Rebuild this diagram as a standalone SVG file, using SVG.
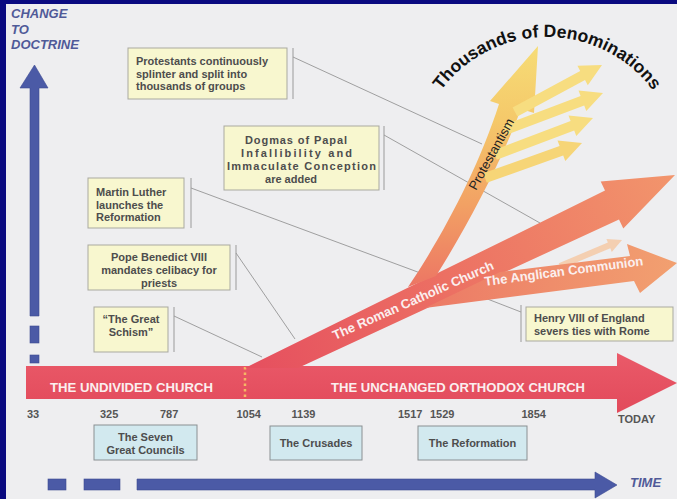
<svg xmlns="http://www.w3.org/2000/svg" width="677" height="499" viewBox="0 0 677 499">
<defs>
<style>
.bx{fill:#f8f7cf;stroke:#a9a9a0;stroke-width:1}
.br{stroke:#9a9a9a;stroke-width:1}
.bb{fill:#d2e9ef;stroke:#8a8f92;stroke-width:1}
.t{font-family:"Liberation Sans",Arial,sans-serif;font-weight:bold;font-size:11px;fill:#4d4d4d}
.c{text-anchor:middle}
.yr{font-family:"Liberation Sans",Arial,sans-serif;font-weight:bold;font-size:11px;fill:#555}
.w{font-family:"Liberation Sans",Arial,sans-serif;font-weight:bold;font-size:13px;fill:#fbefef}
.ax{font-family:"Liberation Sans",Arial,sans-serif;font-weight:bold;font-style:italic;font-size:13px;fill:#505a98}
.cn{stroke:#8a8a8a;stroke-width:0.8;fill:none}
.blue{fill:#4b5aa6;stroke:#3c4a92;stroke-width:0.6}
.br1{fill:#f7dd80}
</style>
<linearGradient id="gMain" x1="0" y1="353" x2="0" y2="413" gradientUnits="userSpaceOnUse">
<stop offset="0" stop-color="#ea5a69"/><stop offset="1" stop-color="#e24a5b"/>
</linearGradient>
<linearGradient id="gRcc" x1="260" y1="366" x2="675" y2="175" gradientUnits="userSpaceOnUse">
<stop offset="0" stop-color="#e6515f"/><stop offset="0.45" stop-color="#ec7063"/><stop offset="1" stop-color="#f2956c"/>
</linearGradient>
<linearGradient id="gAng" x1="425" y1="0" x2="677" y2="0" gradientUnits="userSpaceOnUse">
<stop offset="0" stop-color="#ec7a66"/><stop offset="1" stop-color="#f2a070"/>
</linearGradient>
<linearGradient id="gPro" x1="0" y1="290" x2="0" y2="46" gradientUnits="userSpaceOnUse">
<stop offset="0" stop-color="#ec7464"/><stop offset="0.35" stop-color="#f2a164"/><stop offset="0.7" stop-color="#f5c96a"/><stop offset="1" stop-color="#f6dc76"/>
</linearGradient>
<path id="arc" d="M440.6,91.2 A131.5,131.5 0 0 1 653.4,91.2"/>
</defs>

<rect x="0" y="0" width="677" height="499" fill="#0a0a80"/>
<rect x="6" y="4" width="671" height="495" fill="#eeeef0"/>

<g id="axis-doctrine">
<text class="ax" x="11" y="18">CHANGE</text>
<text class="ax" x="11" y="33.5">TO</text>
<text class="ax" x="11" y="49">DOCTRINE</text>
<polygon class="blue" points="30,88 30,316 39,316 39,88 48,88 34.5,65 20,88"/>
<rect class="blue" x="30" y="326" width="9" height="17"/>
<rect class="blue" x="30" y="355" width="9" height="8"/>
</g>

<g id="axis-time">
<rect class="blue" x="48" y="479" width="18" height="11"/>
<rect class="blue" x="84" y="479" width="36" height="11"/>
<polygon class="blue" points="137,479 595,479 595,472 617,485 595,498 595,490 137,490"/>
<text class="ax" x="630" y="487" font-size="12.5">TIME</text>
</g>

<g id="connectors">
<line class="cn" x1="293" y1="57" x2="482" y2="144"/>
<line class="cn" x1="384" y1="135" x2="540" y2="223"/>
<line class="cn" x1="191" y1="188" x2="415" y2="271"/>
<line class="cn" x1="521" y1="312" x2="415" y2="271"/>
<line class="cn" x1="236" y1="253" x2="295" y2="339"/>
<line class="cn" x1="174" y1="316" x2="262" y2="357"/>
</g>

<g id="orthodox-church">
<polygon points="26,366 617,366 617,353 677,383 617,413 617,399 26,399" fill="url(#gMain)"/>
<text class="w" x="50" y="392" textLength="163" lengthAdjust="spacingAndGlyphs">THE UNDIVIDED CHURCH</text>
<text class="w" x="331" y="392" textLength="254" lengthAdjust="spacingAndGlyphs">THE UNCHANGED ORTHODOX CHURCH</text>
<line x1="245" y1="367" x2="245" y2="398" stroke="#f5b865" stroke-width="2.5" stroke-dasharray="2.5,3"/>
</g>

<g id="roman-catholic-church">
<polygon points="245,368 605,190.6 600.7,181.6 675,175 623.3,228.4 619,219.4 298,368" fill="url(#gRcc)"/>
</g>

<g id="anglican-communion">
<polygon points="558.8,263.2 607.9,242.6 606.4,239 622,240 611.8,251.9 610.3,248.2 561.2,268.8" fill="#f5c9a6" opacity="0.85"/>
<polygon points="425,308 634,281 640,293 677,263 627,244 630,256 500,272" fill="url(#gAng)"/>
</g>

<g id="protestantism">
<path d="M408,287 C440,240 478,170 499,104 L490,101 L538,46 L534,113 L521,109 C500,165 465,230 436,276 Z" fill="url(#gPro)"/>
<polygon class="br1" points="517.4,116.4 585,79.9 587.8,85.2 602,65 577.4,65.8 580.2,71.1 512.6,107.6"/>
<polygon class="br1" points="506.8,134.7 584.2,105.5 586.3,111.1 603,93 578.5,90.5 580.6,96.1 503.2,125.3"/>
<polygon class="br1" points="496.8,159.7 574.2,130.5 576.3,136.1 593,118 568.5,115.5 570.6,121.1 493.2,150.3"/>
<polygon points="486.8,182.7 563.2,155.5 565.3,161.1 582,143 557.5,140.5 559.6,146.1 483.2,173.3" fill="#f6d577"/>
<text x="0" y="0" transform="translate(476,191) rotate(-61)" font-family="'Liberation Sans',Arial,sans-serif" font-size="13" fill="#222">Protestantism</text>
</g>

<g id="branch-labels">
<text class="w" transform="translate(335,340) rotate(-24)" textLength="175" lengthAdjust="spacingAndGlyphs">The Roman Catholic Church</text>
<text class="w" transform="translate(485,286) rotate(-7.5)" textLength="160" lengthAdjust="spacingAndGlyphs">The Anglican Communion</text>
</g>

<g id="denominations-title">
<text font-family="'Liberation Sans',Arial,sans-serif" font-weight="bold" font-size="17.5" fill="#111"><textPath href="#arc" startOffset="50%" text-anchor="middle">Thousands of Denominations</textPath></text>
</g>

<g id="box-protestants">
<rect class="bx" x="128" y="48" width="159" height="51"/>
<line class="br" x1="293" y1="48" x2="293" y2="99"/>
<text class="t" x="136" y="65">Protestants continuously</text>
<text class="t" x="136" y="77.5">splinter and split into</text>
<text class="t" x="136" y="90">thousands of groups</text>
</g>

<g id="box-dogmas">
<rect class="bx" x="224" y="126" width="155" height="64"/>
<line class="br" x1="384" y1="126" x2="384" y2="190"/>
<text class="t" x="245" y="144" textLength="102">Dogmas of Papal</text>
<text class="t" x="241" y="157" textLength="111">Infallibility  and</text>
<text class="t" x="227" y="170" textLength="149">Immaculate Conception</text>
<text class="t c" x="291" y="183">are added</text>
</g>

<g id="box-luther">
<rect class="bx" x="88" y="178" width="96" height="50"/>
<line class="br" x1="191" y1="178" x2="191" y2="228"/>
<text class="t" x="96" y="196">Martin Luther</text>
<text class="t" x="96" y="208.5">launches the</text>
<text class="t" x="96" y="221">Reformation</text>
</g>

<g id="box-benedict">
<rect class="bx" x="88" y="245" width="142" height="45"/>
<line class="br" x1="236" y1="245" x2="236" y2="290"/>
<text class="t c" x="159" y="261">Pope Benedict VIII</text>
<text class="t c" x="159" y="274">mandates celibacy for</text>
<text class="t c" x="159" y="287">priests</text>
</g>

<g id="box-schism">
<rect class="bx" x="94" y="307" width="74" height="45"/>
<line class="br" x1="174" y1="307" x2="174" y2="352"/>
<text class="t c" x="131" y="323">“The Great</text>
<text class="t c" x="131" y="336">Schism”</text>
</g>

<g id="box-henry">
<rect class="bx" x="526" y="307" width="147" height="34"/>
<line class="br" x1="521" y1="305" x2="521" y2="342"/>
<text class="t" x="534" y="322">Henry VIII of England</text>
<text class="t" x="534" y="335">severs ties with Rome</text>
</g>

<g id="years">
<text class="yr" x="27" y="418">33</text>
<text class="yr" x="100" y="418">325</text>
<text class="yr" x="160" y="418">787</text>
<text class="yr" x="236.5" y="418">1054</text>
<text class="yr" x="291.5" y="418">1139</text>
<text class="yr" x="398" y="418">1517</text>
<text class="yr" x="430" y="418">1529</text>
<text class="yr" x="521.5" y="418">1854</text>
<text class="yr" x="618" y="423" font-size="10.5">TODAY</text>
</g>

<g id="box-councils">
<rect class="bb" x="94" y="425" width="103" height="35"/>
<text class="t c" x="145.5" y="440.5">The Seven</text>
<text class="t c" x="145.5" y="454">Great Councils</text>
</g>

<g id="box-crusades">
<rect class="bb" x="270" y="426" width="92" height="34"/>
<text class="t c" x="316" y="447">The Crusades</text>
</g>

<g id="box-reformation">
<rect class="bb" x="418" y="426" width="109" height="34"/>
<text class="t c" x="472.5" y="447">The Reformation</text>
</g>
</svg>
